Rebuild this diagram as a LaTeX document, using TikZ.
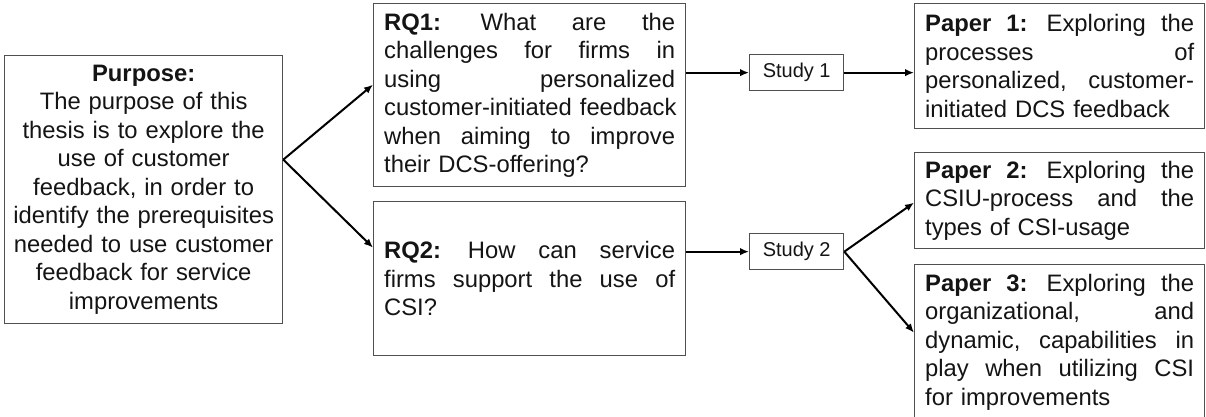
\documentclass[tikz,border=0pt]{standalone}
\usepackage{fontspec}
\setmainfont{Liberation Sans}
\usetikzlibrary{arrows.meta,calc}

\definecolor{boxline}{RGB}{80,80,80}
\definecolor{ink}{RGB}{20,20,20}

% one justified line of the given width; the gaps are marked with \hfill
\newcommand{\jline}[2][291pt]{\leavevmode\hbox to #1{#2}}

\begin{document}
\begin{tikzpicture}[x=1pt,y=-1pt,
  box/.style={draw=boxline, line width=1.3pt, anchor=north west,
    inner ysep=0pt, text=ink,
    font=\fontsize{23.8}{28.5}\selectfont},
  rqbox/.style={box, minimum width=312pt, text width=291pt,
    inner xsep=10.5pt, align=left},
  paperbox/.style={box, minimum width=290pt, text width=269pt,
    inner xsep=10.5pt, align=left},
  studybox/.style={box, minimum width=94pt, minimum height=36pt,
    inner xsep=0pt, font=\fontsize{20}{24}\selectfont},
  flow/.style={draw=black, line width=2pt,
    -{Latex[length=9pt,width=7.5pt]}}
]
\useasboundingbox (0,0) rectangle (1206,416);

% aim of the thesis
\node[box, minimum width=278pt, minimum height=268pt, text width=272pt,
  inner xsep=3pt, align=center] (pur) at (4,55)
  {\textbf{Purpose:}\\
   The purpose of this\\
   thesis is to explore the\\
   use of customer\\
   feedback, in order to\\
   identify the prerequisites\\
   needed to use customer\\
   feedback for service\\
   improvements};

% research questions
\node[rqbox, minimum height=183pt] (rq1) at (373,3)
  {\jline{\textbf{RQ1:} \hfill What \hfill are \hfill the}\\
   \jline{challenges \hfill for \hfill firms \hfill in}\\
   \jline{using \hfill personalized}\\
   \jline{customer-initiated \hfill feedback}\\
   \jline{when \hfill aiming \hfill to \hfill improve}\\
   their DCS-offering?};

\node[rqbox, minimum height=154pt] (rq2) at (373,201)
  {\jline{\textbf{RQ2:} \hfill How \hfill can \hfill service}\\
   \jline{firms \hfill support \hfill the \hfill use \hfill of}\\
   CSI?};

% studies
\node[studybox] (s1) at (749,54) {Study 1};
\node[studybox] (s2) at (749,233) {Study 2};

% papers
\node[paperbox, minimum height=125pt] (p1) at (914,3)
  {\jline[269pt]{\textbf{Paper \hfill 1:} \hfill Exploring \hfill the}\\
   \jline[269pt]{processes \hfill of}\\
   \jline[269pt]{personalized, \hfill customer-}\\
   initiated DCS feedback};

\node[paperbox, minimum height=96pt] (p2) at (914,152)
  {\jline[269pt]{\textbf{Paper \hfill 2:} \hfill Exploring \hfill the}\\
   \jline[269pt]{CSIU-process \hfill and \hfill the}\\
   types of CSI-usage};

\node[paperbox, minimum height=155pt] (p3) at (914,264)
  {\jline[269pt]{\textbf{Paper \hfill 3:} \hfill Exploring \hfill the}\\
   \jline[269pt]{organizational, \hfill and}\\
   \jline[269pt]{dynamic, \hfill capabilities \hfill in}\\
   \jline[269pt]{play \hfill when \hfill utilizing \hfill CSI}\\
   for improvements};

% connectors
\coordinate (fork) at ([yshift=30pt]pur.east);
\draw[flow] (fork) -- ([yshift=10.5pt]rq1.west);
\draw[flow] (fork) -- ([yshift=31pt]rq2.west);
\draw[flow] (s1.west -| rq1.east) -- (s1.west);
\draw[flow] (s2.west -| rq2.east) -- (s2.west);
\draw[flow] (s1.east) -- (s1.east -| p1.west);
\draw[flow] (s2.east) -- ([yshift=-2pt]p2.west);
\draw[flow] (s2.east) -- ([yshift=9.5pt]p3.west);
\end{tikzpicture}
\end{document}
